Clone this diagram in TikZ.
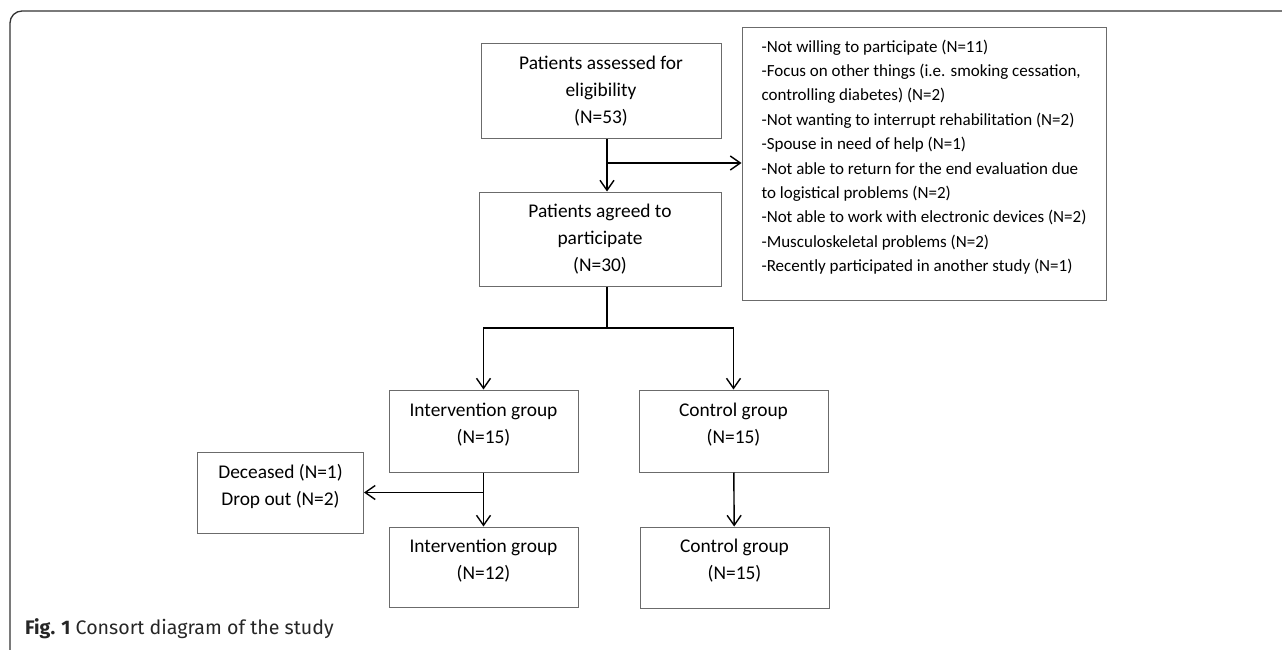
\documentclass[tikz,border=0pt]{standalone}
\usepackage{fontspec}
\setmainfont{Carlito}
\newfontfamily\capfont{Fira Sans}
\usetikzlibrary{arrows.meta,calc}
\definecolor{boxline}{gray}{0.42}
\definecolor{frameline}{gray}{0.2}
\begin{document}
\begin{tikzpicture}
	[x=1pt, y=-1pt,
	box/.style={draw=boxline, line width=1pt, inner sep=0pt,
		align=center, font=\fontsize{19.4}{27}\selectfont},
	lowbox/.style={box, minimum width=189pt, text depth=16pt},
	arr/.style={line width=1.4pt, -{Straight Barb[length=10pt,width=14pt]}},
	conn/.style={line width=1.4pt}]
	\useasboundingbox (0,0) rectangle (1282,650);
	% outer frame
	\draw[frameline, line width=1.3pt, rounded corners=12pt]
		(10,650) -- (10,11) -- (1282,11);
	% enrolment
	\node[box, minimum width=240pt, minimum height=95pt] (assessed) at (601,91.5)
		{Patients assessed for\\eligibility\\(N=53)};
	\node[box, minimum width=242pt, minimum height=94pt] (agreed) at (600,239)
		{Patients agreed to\\participate\\(N=30)};
	\node[box, minimum width=364pt, minimum height=272pt, align=left,
		text depth=16.5pt, font=\fontsize{17}{24.4}\selectfont] (excluded) at (924,164)
		{-Not willing to participate (N=11)\\
		-Focus on other things (i.e. smoking cessation,\\
		controlling diabetes) (N=2)\\
		-Not wanting to interrupt rehabilitation (N=2)\\
		-Spouse in need of help (N=1)\\
		-Not able to return for the end evaluation due\\
		to logistical problems (N=2)\\
		-Not able to work with electronic devices (N=2)\\
		-Musculoskeletal problems (N=2)\\
		-Recently participated in another study (N=1)};
	% groups
	\node[lowbox, minimum height=82pt] (interv1) at (483.5,431)
		{Intervention group\\(N=15)};
	\node[lowbox, minimum height=82pt] (control1) at (733.5,431)
		{Control group\\(N=15)};
	\node[lowbox, minimum height=80pt] (interv2) at (483.5,567)
		{Intervention group\\(N=12)};
	\node[lowbox, minimum height=81pt] (control2) at (734.5,567.5)
		{Control group\\(N=15)};
	\node[lowbox, minimum width=166pt, minimum height=81pt] (dropout) at (280.5,492.5)
		{Deceased (N=1)\\Drop out (N=2)};
	% connectors
	\coordinate (fork) at (607,328);
	\coordinate (side) at (607,163);
	\draw[arr] (assessed.south -| fork) -- (agreed.north -| fork);
	\draw[arr] (side) -- (side -| excluded.west);
	\draw[conn] (agreed.south -| fork) -- (fork);
	\draw[arr] (fork) -| (interv1.north);
	\draw[arr] (fork) -| (control1.north);
	\draw[arr] (interv1) -- (interv2);
	\draw[arr] (interv1.south |- dropout) -- (dropout.east);
	\draw[arr] (control1) -- (control2);
	% caption
	\node[anchor=base west, inner sep=0pt, text=black!85,
		font=\capfont\fontsize{19.6}{23}\selectfont] (caption) at (25,634)
		{\textbf{Fig. 1} Consort diagram of the study};
\end{tikzpicture}
\end{document}
